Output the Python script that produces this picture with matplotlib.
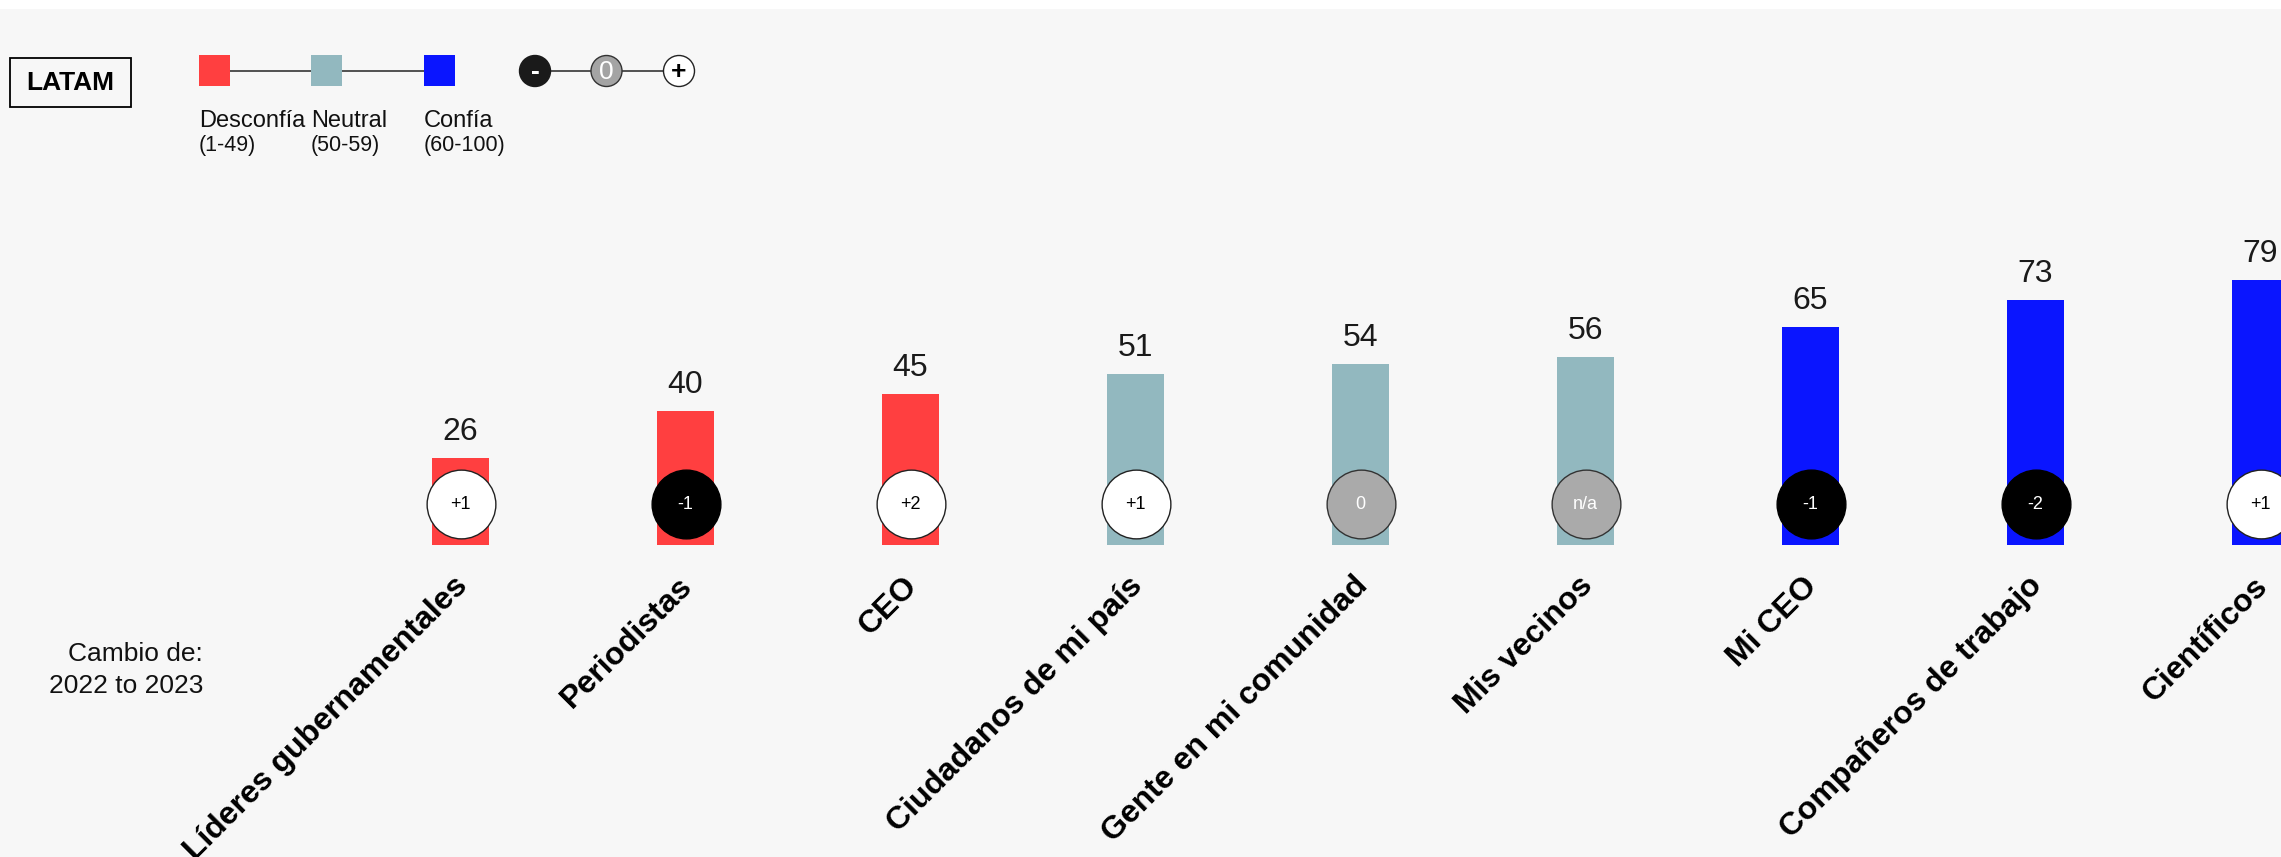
import matplotlib.pyplot as plt
from matplotlib.patches import Rectangle, Circle

plt.rcParams['font.family'] = ['Liberation Sans', 'DejaVu Sans']

categorias = ['Líderes gubernamentales', 'Periodistas', 'CEO', 'Ciudadanos de mi país',
              'Gente en mi comunidad', 'Mis vecinos', 'Mi CEO', 'Compañeros de trabajo',
              'Científicos']
confianza = [26, 40, 45, 51, 54, 56, 65, 73, 79]
cambios = ['+1', '-1', '+2', '+1', '0', 'n/a', '-1', '-2', '+1']

ROJO = '#ff3f40'
NEUTRO = '#92b8bf'
AZUL = '#0a15ff'
GRIS = '#aaaaaa'
FONDO = '#f7f7f7'

W, H = 2281, 857
fig = plt.figure(figsize=(W / 100, H / 100), dpi=100, facecolor=FONDO)

# eje en pixeles para leyenda y textos fijos
px = fig.add_axes([0, 0, 1, 1])
px.set_xlim(0, W)
px.set_ylim(H, 0)
px.axis('off')
px.add_patch(Rectangle((0, 0), W, 9, facecolor='white', edgecolor='none'))

# eje de datos: barra 0 centrada en x=460 px, 225 px entre barras, base en y=545 px
x0, paso = 460.5, 225
base, escala = 545, 3.35
ax = fig.add_axes([0, 0, 1, 1])
ax.patch.set_alpha(0)
ax.set_xlim(-x0 / paso, (W - x0) / paso)
ax.set_ylim(-(H - base) / escala, base / escala)
ax.axis('off')


def color_de(v):
    if v < 50:
        return ROJO
    if v < 60:
        return NEUTRO
    return AZUL


xs = list(range(len(categorias)))
ax.bar(xs, confianza, width=57 / paso, color=[color_de(v) for v in confianza])

for x, v in zip(xs, confianza):
    ax.annotate(str(v), (x, v), xytext=(0, 18), textcoords='offset pixels',
                ha='center', va='baseline', fontsize=23, color='#1a1a1a')

y_circ = (base - 504) / escala
for x, c in zip(xs, cambios):
    if c.startswith('+'):
        cara, borde, txt = 'white', '#222222', 'black'
    elif c.startswith('-'):
        cara, borde, txt = 'black', 'black', 'white'
    else:
        cara, borde, txt = GRIS, '#333333', 'white'
    ax.scatter([x], [y_circ], s=2450, facecolor=cara, edgecolor=borde, linewidth=1, zorder=3)
    ax.text(x, y_circ, c, ha='center', va='center', fontsize=13, color=txt, zorder=4)

for x, nombre in zip(xs, categorias):
    ax.annotate(nombre, (x, 0), xytext=(-8, -26), textcoords='offset pixels',
                rotation=45, rotation_mode='anchor', ha='right', va='top',
                fontsize=23, fontweight='bold', color='black')

# caja LATAM
px.add_patch(Rectangle((10, 58), 121, 49, facecolor='none', edgecolor='black', linewidth=1.3))
px.text(70.5, 83, 'LATAM', ha='center', va='center', fontsize=19, fontweight='bold')

# escala de colores
px.plot([214, 439], [70.5, 70.5], color='#444444', linewidth=1.3, zorder=1)
for xc, col, t1, t2 in [(199, ROJO, 'Desconfía', '(1-49)'),
                        (311, NEUTRO, 'Neutral', '(50-59)'),
                        (424, AZUL, 'Confía', '(60-100)')]:
    px.add_patch(Rectangle((xc, 55), 31, 31, facecolor=col, edgecolor='none', zorder=2))
    px.text(xc, 127, t1, ha='left', va='baseline', fontsize=17, color='#111111')
    px.text(xc, 151, t2, ha='left', va='baseline', fontsize=15.5, color='#111111')

# escala de cambio
px.plot([535, 679], [71, 71], color='#444444', linewidth=1.3, zorder=1)
for xc, cara, borde, sim, col, peso in [(535, '#1a1a1a', '#1a1a1a', '-', 'white', 'bold'),
                                        (606.5, '#a4a4a4', '#333333', '0', 'white', 'normal'),
                                        (679, 'white', '#222222', '+', 'black', 'bold')]:
    px.add_patch(Circle((xc, 71), 15.5, facecolor=cara, edgecolor=borde, linewidth=1, zorder=2))
    px.text(xc, 72, sim, ha='center', va='center', fontsize=19, fontweight=peso, color=col, zorder=3)

px.text(203, 661, 'Cambio de:', ha='right', va='baseline', fontsize=19, color='#111111')
px.text(203, 693, '2022 to 2023', ha='right', va='baseline', fontsize=19, color='#111111')

fig.savefig('out.png', dpi=100, facecolor=FONDO)
